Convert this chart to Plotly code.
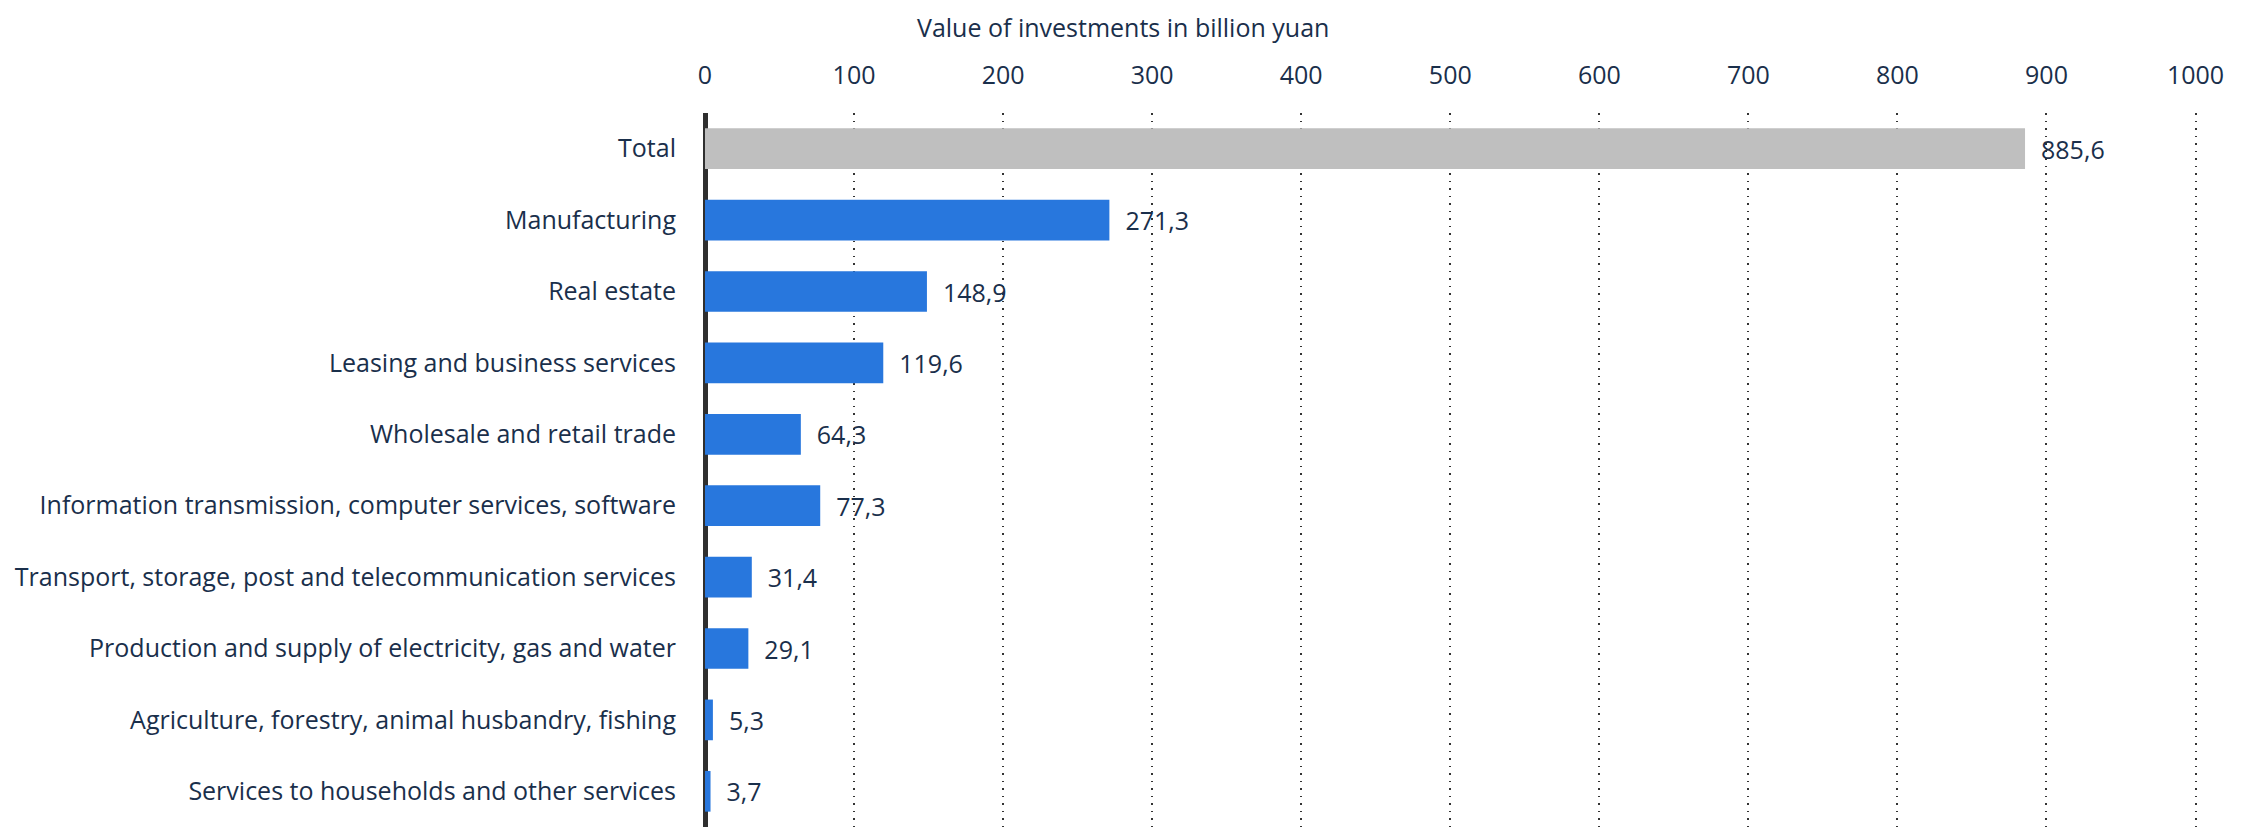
import plotly.graph_objects as go

categories = ["Total", "Manufacturing", "Real estate", "Leasing and business services",
              "Wholesale and retail trade",
              "Information transmission, computer services, software",
              "Transport, storage, post and telecommunication services",
              "Production and supply of electricity, gas and water",
              "Agriculture, forestry, animal husbandry, fishing",
              "Services to households and other services"]
values = [885.6, 271.3, 148.9, 119.6, 64.3, 77.3, 31.4, 29.1, 5.3, 3.7]
tick_vals = [0, 100, 200, 300, 400, 500, 600, 700, 800, 900, 1000]

text_col = "#1a2f4b"
font = "Open Sans"
fsize = 25

bar_colors = ["#bfbfbf"] + ["#2877dd"] * (len(values) - 1)
labels = ["\u00a0\u00a0" + f"{v:.1f}".replace(".", ",") for v in values]

fig = go.Figure()
fig.add_trace(go.Bar(
    x=values, y=categories, orientation="h",
    marker=dict(color=bar_colors, line=dict(width=0)),
    text=labels, textposition="outside", cliponaxis=False,
    textfont=dict(size=fsize, color=text_col, family=font),
))

# page has an 8px body margin, so the figure is a bit smaller than the window
fig.update_layout(
    width=2243, height=819,
    margin=dict(l=697, r=48, t=105, b=0),
    paper_bgcolor="white", plot_bgcolor="white",
    bargap=0.43, showlegend=False,
    font=dict(family=font, size=fsize, color=text_col),
    xaxis=dict(side="top", range=[0, 1005], tickvals=tick_vals,
               showgrid=True, gridcolor="#333333", griddash="1.5px,6px", gridwidth=1.5,
               zeroline=True, zerolinecolor="#2f2f2f", zerolinewidth=4.5,
               ticks="", ticklabelstandoff=23,
               tickfont=dict(size=fsize, color=text_col)),
    yaxis=dict(autorange="reversed", showgrid=False, zeroline=False,
               ticks="", ticklabelstandoff=28,
               tickfont=dict(size=fsize, color=text_col)),
    annotations=[dict(text="Value of investments in billion yuan", xref="paper", yref="paper",
                      x=0.279, y=1.12, xanchor="center", yanchor="middle", showarrow=False,
                      font=dict(size=fsize, color=text_col, family=font))],
)

fig.write_html("out.html")
